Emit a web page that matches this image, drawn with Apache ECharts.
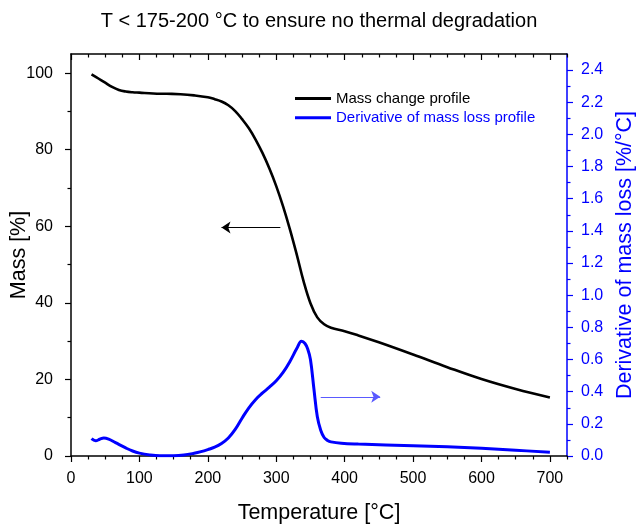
<!DOCTYPE html>
<html><head><meta charset="utf-8">
<script src="https://cdn.jsdelivr.net/npm/echarts@6/dist/echarts.min.js"></script>
<style>html,body{margin:0;padding:0;background:#fff}#c{width:638px;height:528px}</style>
</head><body><div id="c"></div>
<script>
const massT = [30,40,50,60,70,80,90,100,120,140,160,180,200,210,220,230,240,250,260,270,280,290,300,310,320,330,340,350,360,370,380,400,420,450,500,550,600,650,700];
const massVal = [99.7,98.6,97.5,96.4,95.6,95.2,95.0,94.9,94.7,94.6,94.5,94.2,93.7,93.2,92.6,91.6,90.1,88.0,85.6,82.6,79.1,75.1,70.5,65.2,59.2,52.6,45.6,39.9,36.2,34.4,33.5,32.6,31.5,29.7,26.5,23.2,20.1,17.5,15.3];
const dtgT = [30,36,42,48,55,65,80,90,100,115,130,150,165,180,190,200,210,220,230,240,250,260,270,280,290,300,310,320,330,337,342,346,350,355,360,365,370,375,380,395,420,500,550,600,650,700];
const dtgVal = [0.108,0.095,0.104,0.112,0.105,0.083,0.050,0.031,0.018,0.007,0.002,0.002,0.006,0.017,0.027,0.040,0.055,0.078,0.112,0.165,0.235,0.300,0.352,0.392,0.428,0.468,0.520,0.588,0.668,0.713,0.700,0.665,0.600,0.420,0.245,0.160,0.115,0.097,0.088,0.079,0.074,0.064,0.057,0.048,0.036,0.023];

const xMajorTicks = [0,100,200,300,400,500,600,700];
const xMinorTicks = [25,50,75,125,150,175,225,250,275,325,350,375,425,450,475,525,550,575,625,650,675,725];
const massMajorTicks = [0,20,40,60,80,100];
const massMinorTicks = [10,30,50,70,90];
const dtgMajorTicks = [0,0.2,0.4,0.6,0.8,1.0,1.2,1.4,1.6,1.8,2.0,2.2,2.4];
const dtgMinorTicks = [0.1,0.3,0.5,0.7,0.9,1.1,1.3,1.5,1.7,1.9,2.1,2.3];

const massArrow = [[306,59.7],[220,59.7]];
const dtgArrow = [[365,0.368],[452,0.368]];

const FONT = '"Liberation Sans", Arial, Helvetica, sans-serif';
const BLACK = '#000000';
const BLUE = '#0000ff';
const xMin = 0, xMax = 725, massMin = 0, massMax = 105, dtgMin = 0, dtgMax = 2.5;

function zip(a, b) { return a.map((v, i) => [v, b[i]]); }

function xAx(pos, ticks, len, inside, labels, showLine) {
  return {
    type: 'value', position: pos, min: xMin, max: xMax,
    splitLine: {show: false},
    axisLine: {show: showLine, onZero: false, lineStyle: {color: BLACK, width: 1.5}},
    axisTick: {show: true, inside: inside, length: len, customValues: ticks, lineStyle: {color: BLACK, width: 1.2}},
    axisLabel: {show: labels, customValues: ticks, fontFamily: FONT, fontSize: 16, color: BLACK, margin: 15},
    name: labels ? 'Temperature [°C]' : '', nameLocation: 'middle', nameGap: 46, nameMoveOverlap: false,
    nameTextStyle: {fontFamily: FONT, fontSize: 21.5, color: BLACK}
  };
}

function yAx(pos, min, max, ticks, len, color, showLine, labels) {
  return {
    type: 'value', position: pos, min: min, max: max,
    splitLine: {show: false},
    axisLine: {show: showLine, onZero: false, lineStyle: {color: color, width: 1.5}},
    axisTick: {show: true, length: len, customValues: ticks, lineStyle: {color: color, width: 1.2}},
    axisLabel: {show: labels, customValues: ticks, fontFamily: FONT, fontSize: 16, color: color, margin: pos === 'left' ? 18 : 14}
  };
}

const yMassMajor = yAx('left', massMin, massMax, massMajorTicks, 6, BLACK, true, true);
yMassMajor.name = 'Mass [%]';
yMassMajor.nameLocation = 'middle';
yMassMajor.nameGap = 41;
yMassMajor.nameMoveOverlap = false;
yMassMajor.nameTextStyle = {fontFamily: FONT, fontSize: 21.5, color: BLACK};

const yDtgMajor = yAx('right', dtgMin, dtgMax, dtgMajorTicks, 6, BLUE, true, true);
yDtgMajor.axisLabel.formatter = v => Number(v).toFixed(1);
yDtgMajor.name = 'Derivative of mass loss [%/°C]';
yDtgMajor.nameLocation = 'middle';
yDtgMajor.nameGap = 47;
yDtgMajor.nameMoveOverlap = false;
yDtgMajor.nameTextStyle = {fontFamily: FONT, fontSize: 21.5, color: BLUE};

const option = {
  animation: false,
  backgroundColor: '#ffffff',
  title: {
    text: 'T < 175-200 °C to ensure no thermal degradation',
    left: 'center', top: 6,
    textStyle: {fontFamily: FONT, fontSize: 20, fontWeight: 'normal', color: BLACK}
  },
  legend: {
    orient: 'vertical', left: 290, top: 86, itemWidth: 36, itemHeight: 3, itemGap: 4.3,
    icon: 'rect',
    textStyle: {fontFamily: FONT, fontSize: 15},
    data: [
      {name: 'Mass change profile', textStyle: {color: BLACK}},
      {name: 'Derivative of mass loss profile', textStyle: {color: BLUE}}
    ]
  },
  grid: {left: 71, right: 71, top: 54, bottom: 72, containLabel: false, outerBoundsMode: 'none'},
  xAxis: [
    xAx('bottom', xMajorTicks, 6, false, true, true),
    xAx('bottom', xMinorTicks, 3.5, false, false, false),
    xAx('top', xMajorTicks, 6, true, false, true),
    xAx('top', xMinorTicks, 3.5, true, false, false)
  ],
  yAxis: [
    yMassMajor,
    yAx('left', massMin, massMax, massMinorTicks, 3.5, BLACK, false, false),
    yDtgMajor,
    yAx('right', dtgMin, dtgMax, dtgMinorTicks, 3.5, BLUE, false, false)
  ],
  series: [
    {
      name: 'Mass change profile', type: 'line', xAxisIndex: 0, yAxisIndex: 0,
      data: zip(massT, massVal), showSymbol: false, symbol: 'none',
      smooth: 0.4,
      lineStyle: {color: BLACK, width: 2.6}, itemStyle: {color: BLACK},
      markLine: {
        silent: true, symbol: ['none', 'arrow'], symbolSize: 9,
        label: {show: false},
        lineStyle: {color: BLACK, width: 1, type: 'solid'},
        data: [[{coord: massArrow[0]}, {coord: massArrow[1]}]]
      }
    },
    {
      name: 'Derivative of mass loss profile', type: 'line', xAxisIndex: 0, yAxisIndex: 2,
      data: zip(dtgT, dtgVal), showSymbol: false, symbol: 'none',
      smooth: 0.4,
      lineStyle: {color: BLUE, width: 3}, itemStyle: {color: BLUE},
      markLine: {
        silent: true, symbol: ['none', 'arrow'], symbolSize: 9,
        label: {show: false},
        lineStyle: {color: '#5a5aff', width: 1, type: 'solid'},
        data: [[{coord: dtgArrow[0]}, {coord: dtgArrow[1]}]]
      }
    }
  ]
};
const chart = echarts.init(document.getElementById('c'), null, {renderer: 'canvas'});
chart.setOption(option);
</script>
</body></html>
